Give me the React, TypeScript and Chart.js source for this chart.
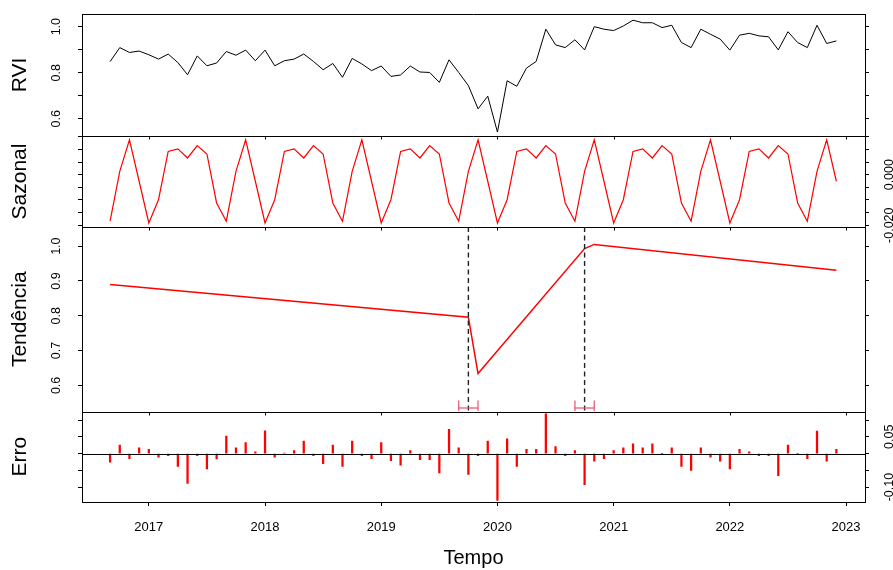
import React, { useEffect, useRef } from "react";
import { Chart, registerables } from "chart.js";
Chart.register(...registerables);

// Monthly series: Sep 2016 .. Dec 2022
const START_YEAR = 2016;
const START_MONTH = 9;

const RVI = [
  0.848, 0.909, 0.888, 0.894,
  0.878, 0.859, 0.881, 0.844, 0.791, 0.873, 0.830, 0.842, 0.892, 0.876, 0.898, 0.852,
  0.898, 0.830, 0.852, 0.859, 0.881, 0.849, 0.813, 0.840, 0.780, 0.862, 0.838, 0.809,
  0.829, 0.784, 0.790, 0.829, 0.803, 0.801, 0.758, 0.856, 0.801, 0.744, 0.643, 0.698,
  0.542, 0.765, 0.741, 0.820, 0.849, 0.989, 0.921, 0.909, 0.943, 0.899, 1.000, 0.989,
  0.983, 1.003, 1.028, 1.017, 1.017, 0.996, 1.006, 0.931, 0.909, 0.989, 0.967, 0.946,
  0.898, 0.963, 0.971, 0.960, 0.956, 0.899, 0.978, 0.931, 0.909, 1.006, 0.927, 0.938,
];

const SAZONAL = [
  -0.0184, 0.0013, 0.0138, -0.0026,
  -0.0191, -0.0099, 0.0092, 0.0102, 0.0066, 0.0115, 0.0082, -0.0112, -0.0184, 0.0013, 0.0138, -0.0026,
  -0.0191, -0.0099, 0.0092, 0.0102, 0.0066, 0.0115, 0.0082, -0.0112, -0.0184, 0.0013, 0.0138, -0.0026,
  -0.0191, -0.0099, 0.0092, 0.0102, 0.0066, 0.0115, 0.0082, -0.0112, -0.0184, 0.0013, 0.0138, -0.0026,
  -0.0191, -0.0099, 0.0092, 0.0102, 0.0066, 0.0115, 0.0082, -0.0112, -0.0184, 0.0013, 0.0138, -0.0026,
  -0.0191, -0.0099, 0.0092, 0.0102, 0.0066, 0.0115, 0.0082, -0.0112, -0.0184, 0.0013, 0.0138, -0.0026,
  -0.0191, -0.0099, 0.0092, 0.0102, 0.0066, 0.0115, 0.0082, -0.0112, -0.0184, 0.0013, 0.0138, -0.0026,
];

// Piecewise-linear trend: segment end points (decimal year, value)
const TREND_T = [2016.667, 2019.75, 2019.833, 2020.75, 2020.833, 2022.917];
const TREND_V = [0.890, 0.796, 0.634, 0.993, 1.005, 0.931];

const ERRO = [
  -0.026, 0.025, -0.015, 0.017,
  0.013, -0.011, -0.006, -0.038, -0.089, -0.006, -0.046, -0.016, 0.052, 0.017, 0.033, 0.005,
  0.068, -0.011, 0.001, 0.009, 0.037, -0.006, -0.030, 0.025, -0.038, 0.037, -0.006, -0.015,
  0.033, -0.021, -0.035, 0.009, -0.018, -0.018, -0.058, 0.072, 0.017, -0.062, -0.006, 0.037,
  -0.140, 0.044, -0.038, 0.013, 0.013, 0.119, 0.021, -0.006, 0.009, -0.093, -0.023, -0.015,
  0.009, 0.017, 0.029, 0.017, 0.029, 0.000, 0.017, -0.038, -0.050, 0.017, -0.011, -0.023,
  -0.046, 0.013, 0.005, -0.006, -0.006, -0.066, 0.025, 0.000, -0.015, 0.067, -0.023, 0.013,
];

const BREAKS = [2019.75, 2020.75];
const CI_LOW = [2019.667, 2020.667];
const CI_HIGH = [2019.833, 2020.833];

const YEARS = [2017, 2018, 2019, 2020, 2021, 2022, 2023];

const RVI_TICKS = [0.6, 0.7, 0.8, 0.9, 1.0];
const RVI_LABELS = [[0.6, "0.6"], [0.8, "0.8"], [1.0, "1.0"]] as [number, string][];
const SAZ_TICKS = [-0.02, -0.015, -0.01, -0.005, 0, 0.005, 0.01, 0.015];
const SAZ_LABELS = [[-0.02, "-0.020"], [0, "0.000"]] as [number, string][];
const TREND_TICKS = [0.6, 0.7, 0.8, 0.9, 1.0];
const TREND_LABELS = [[0.6, "0.6"], [0.7, "0.7"], [0.8, "0.8"], [0.9, "0.9"], [1.0, "1.0"]] as [number, string][];
const ERRO_TICKS = [-0.1, -0.05, 0, 0.05, 0.1];
const ERRO_LABELS = [[-0.1, "-0.10"], [0.05, "0.05"]] as [number, string][];

const FONT = "'Liberation Sans', Arial, sans-serif";

const monthX = (i: number) => START_YEAR + (START_MONTH - 1) / 12 + i / 12;

function yScale(
  min: number, max: number, ticks: number[], pos: string, stack: string,
  weight: number, title?: string
) {
  return {
    type: "linear",
    position: pos,
    stack,
    stackWeight: weight,
    min,
    max,
    offset: false,
    afterBuildTicks: (s: any) => { s.ticks = ticks.map((v) => ({ value: v })); },
    afterFit: (s: any) => { s.width = pos === "left" ? 82 : 28; },
    ticks: { display: false },
    grid: { display: true, offset: false, drawOnChartArea: false, drawTicks: true, tickLength: 4, color: "#000", lineWidth: 1 },
    border: { display: true, color: "#000", width: 1 },
    title: title
      ? { display: true, text: title, color: "#000", font: { family: FONT, size: 21 }, padding: { top: 8, bottom: 0 } }
      : { display: false },
  };
}

const crisp = (v: number) => Math.round(v) + 0.5;

const decorPlugin = {
  id: "decor",
  afterDraw(chart: any) {
    const { ctx, chartArea, scales } = chart;
    const xs = scales.x;
    const { left, right, top } = chartArea;
    const line = (x1: number, y1: number, x2: number, y2: number) => {
      ctx.beginPath(); ctx.moveTo(x1, y1); ctx.lineTo(x2, y2); ctx.stroke();
    };
    ctx.save();
    ctx.strokeStyle = "#000";
    ctx.lineWidth = 1;
    line(left, crisp(top), right, crisp(top));
    for (const id of ["yR", "yS", "yT"]) {
      const b = crisp(scales[id].bottom);
      line(left, b, right, b);
      for (const yr of YEARS) {
        const px = crisp(xs.getPixelForValue(yr));
        line(px, b, px, b + 3);
      }
    }
    const y0 = crisp(scales.yE.getPixelForValue(0));
    line(left, y0, right, y0);

    // breakpoints
    const yT = scales.yT;
    ctx.strokeStyle = "#222";
    ctx.lineWidth = 1.4;
    ctx.setLineDash([5, 3.5]);
    for (const b of BREAKS) {
      const px = xs.getPixelForValue(b);
      line(px, yT.top, px, yT.bottom);
    }
    ctx.setLineDash([]);
    // confidence intervals
    ctx.strokeStyle = "#e8506e";
    ctx.lineWidth = 1.2;
    for (let i = 0; i < CI_LOW.length; i++) {
      const x1 = xs.getPixelForValue(CI_LOW[i]);
      const x2 = xs.getPixelForValue(CI_HIGH[i]);
      const yc = yT.bottom - 3.5;
      line(x1, yc, x2, yc);
      line(x1, yT.bottom - 11, x1, yT.bottom - 0.5);
      line(x2, yT.bottom - 11, x2, yT.bottom - 0.5);
    }

    // rotated tick labels
    ctx.fillStyle = "#000";
    ctx.font = `12.5px ${FONT}`;
    ctx.textAlign = "center";
    ctx.textBaseline = "middle";
    const rot = (text: string, x: number, y: number) => {
      ctx.save(); ctx.translate(x, y); ctx.rotate(-Math.PI / 2); ctx.fillText(text, 0, 0); ctx.restore();
    };
    for (const [v, t] of RVI_LABELS) rot(t, 57, scales.yR.getPixelForValue(v));
    for (const [v, t] of TREND_LABELS) rot(t, 57, scales.yT.getPixelForValue(v));
    for (const [v, t] of SAZ_LABELS) rot(t, 890, scales.yS.getPixelForValue(v));
    for (const [v, t] of ERRO_LABELS) rot(t, 890, scales.yE.getPixelForValue(v));
    ctx.restore();
  },
};

export default function App() {
  const ref = useRef<HTMLCanvasElement | null>(null);
  useEffect(() => {
    if (!ref.current) return;
    const rviData = RVI.map((v, i) => ({ x: monthX(i), y: v }));
    const sazData = SAZONAL.map((v, i) => ({ x: monthX(i), y: v }));
    const trendData = TREND_T.map((t, i) => ({ x: t, y: TREND_V[i] }));
    const erroData = ERRO.map((v, i) => ({ x: monthX(i), y: v }));
    const chart = new Chart(ref.current, {
      type: "line",
      data: {
        datasets: [
          { type: "line", data: rviData, yAxisID: "yR", borderColor: "#000", borderWidth: 1, pointRadius: 0, tension: 0 },
          { type: "line", data: sazData, yAxisID: "yS", borderColor: "#ff0000", borderWidth: 1.2, pointRadius: 0, tension: 0 },
          { type: "line", data: trendData, yAxisID: "yT", borderColor: "#ff0000", borderWidth: 1.5, pointRadius: 0, tension: 0 },
          { type: "bar", data: erroData, yAxisID: "yE", backgroundColor: "#ff0000", borderWidth: 0, barThickness: 1.6, grouped: false },
        ] as any,
      },
      options: {
        animation: false,
        responsive: false,
        devicePixelRatio: 1,
        layout: { padding: { top: 14, left: 0, right: 0, bottom: 0 } },
        plugins: { legend: { display: false }, tooltip: { enabled: false } },
        scales: {
          x: {
            type: "linear",
            offset: false,
            min: 2016.425,
            max: 2023.163,
            afterBuildTicks: (s: any) => { s.ticks = YEARS.map((v) => ({ value: v })); },
            afterFit: (s: any) => { s.height = 68; },
            ticks: { color: "#000", font: { family: FONT, size: 13 }, padding: 14, maxRotation: 0, autoSkip: false, callback: (v: any) => String(v) },
            grid: { display: true, offset: false, drawOnChartArea: false, drawTicks: true, tickLength: 4, color: "#000" },
            border: { display: true, color: "#000", width: 1 },
            title: { display: true, text: "Tempo", color: "#000", font: { family: FONT, size: 20 }, padding: { top: 0, bottom: 0 } },
          },
          yE: yScale(-0.1446, 0.1256, ERRO_TICKS, "left", "L", 90.5, "Erro"),
          yT: yScale(0.525, 1.055, TREND_TICKS, "left", "L", 184.5, "Tendência"),
          yS: yScale(-0.0207, 0.0153, SAZ_TICKS, "left", "L", 91, "Sazonal"),
          yR: yScale(0.525, 1.055, RVI_TICKS, "left", "L", 122, "RVI"),
          rR: yScale(0.525, 1.055, RVI_TICKS, "right", "R", 122),
          rS: yScale(-0.0207, 0.0153, SAZ_TICKS, "right", "R", 91),
          rT: yScale(0.525, 1.055, TREND_TICKS, "right", "R", 184.5),
          rE: yScale(-0.1446, 0.1256, ERRO_TICKS, "right", "R", 90.5),
        } as any,
      },
      plugins: [decorPlugin],
    });
    return () => chart.destroy();
  }, []);
  return (
    <div style={{ position: "absolute", left: 0, top: 0, width: 893, height: 570, background: "#fff" }}>
      <canvas ref={ref} width={893} height={570} style={{ display: "block", width: 893, height: 570 }} />
    </div>
  );
}
